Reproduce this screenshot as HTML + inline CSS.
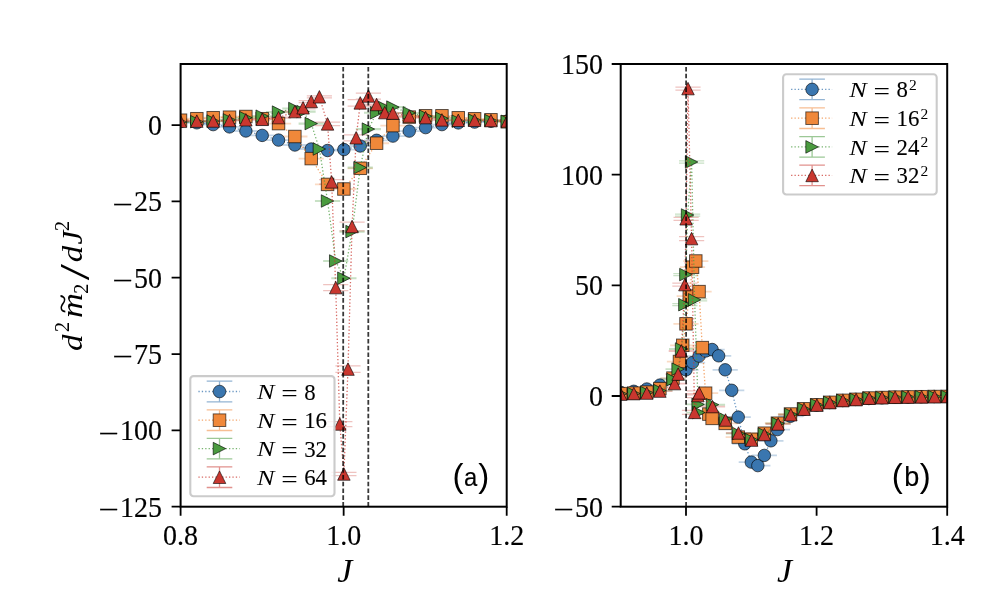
<!DOCTYPE html>
<html lang="en"><head><meta charset="utf-8"><title>Second derivative of m2 versus J</title>
<style>html,body{margin:0;padding:0;background:#fff;}body{width:1000px;height:609px;overflow:hidden;}svg{display:block;filter:blur(0.35px);}</style>
</head><body>
<svg width="1000" height="609" viewBox="0 0 1000 609" role="img" aria-label="Second derivative of m2 versus J for several system sizes">
<rect width="1000" height="609" fill="#fff"/>
<defs>
<clipPath id="clipL"><rect x="180.6" y="64" width="326.1" height="442.7"/></clipPath>
<clipPath id="clipR"><rect x="620.7" y="64" width="326.5" height="442.7"/></clipPath>
</defs>
<g id="panel-a">
<g clip-path="url(#clipL)">
<path d="M167.9 121.2H193.1M167.9 121.8H193.1M180.5 121.2V121.8M184.24 122.5H209.44M184.24 123.1H209.44M196.84 122.5V123.1M200.58 124.3H225.78M200.58 124.9H225.78M213.18 124.3V124.9M216.92 126.6H242.12M216.92 127.2H242.12M229.52 126.6V127.2M233.26 130.7H258.46M233.26 131.3H258.46M245.86 130.7V131.3M249.6 135.1H274.8M249.6 135.7H274.8M262.2 135.1V135.7M265.94 139.8H291.14M265.94 140.4H291.14M278.54 139.8V140.4M282.28 144.7H307.48M282.28 145.3H307.48M294.88 144.7V145.3M298.62 148.7H323.82M298.62 149.3H323.82M311.22 148.7V149.3M314.96 150.2H340.16M314.96 150.8H340.16M327.56 150.2V150.8M331.3 149.3H356.5M331.3 149.9H356.5M343.9 149.3V149.9M347.64 145.7H372.84M347.64 146.3H372.84M360.24 145.7V146.3M363.98 140H389.18M363.98 140.6H389.18M376.58 140V140.6M380.32 135.8H405.52M380.32 136.4H405.52M392.92 135.8V136.4M396.66 130.8H421.86M396.66 131.4H421.86M409.26 130.8V131.4M413 127.3H438.2M413 127.9H438.2M425.6 127.3V127.9M429.34 124.3H454.54M429.34 124.9H454.54M441.94 124.3V124.9M445.68 122.6H470.88M445.68 123.2H470.88M458.28 122.6V123.2M462.02 121.8H487.22M462.02 122.4H487.22M474.62 121.8V122.4M478.36 121H503.56M478.36 121.6H503.56M490.96 121V121.6M494.7 120.7H519.9M494.7 121.3H519.9M507.3 120.7V121.3" stroke="#3a76af" stroke-opacity="0.3" stroke-width="1.25" fill="none"/>
<path d="M167.9 119.9H193.1M167.9 120.5H193.1M180.5 119.9V120.5M184.24 118.4H209.44M184.24 119H209.44M196.84 118.4V119M200.58 117.4H225.78M200.58 118H225.78M213.18 117.4V118M216.92 116.9H242.12M216.92 117.5H242.12M229.52 116.9V117.5M233.26 116.2H258.46M233.26 116.8H258.46M245.86 116.2V116.8M249.6 118.4H274.8M249.6 119H274.8M262.2 118.4V119M265.94 123.3H291.14M265.94 123.9H291.14M278.54 123.3V123.9M282.28 136.2H307.48M282.28 136.8H307.48M294.88 136.2V136.8M298.62 158.3H323.82M298.62 158.9H323.82M311.22 158.3V158.9M314.96 184.1H340.16M314.96 184.7H340.16M327.56 184.1V184.7M331.3 188.7H356.5M331.3 189.3H356.5M343.9 188.7V189.3M347.64 168H372.84M347.64 168.6H372.84M360.24 168V168.6M363.98 142.9H389.18M363.98 143.5H389.18M376.58 142.9V143.5M380.32 125.3H405.52M380.32 125.9H405.52M392.92 125.3V125.9M396.66 116.8H421.86M396.66 117.4H421.86M409.26 116.8V117.4M413 115.5H438.2M413 116.1H438.2M425.6 115.5V116.1M429.34 115.5H454.54M429.34 116.1H454.54M441.94 115.5V116.1M445.68 117.5H470.88M445.68 118.1H470.88M458.28 117.5V118.1M462.02 118.5H487.22M462.02 119.1H487.22M474.62 118.5V119.1M478.36 119.5H503.56M478.36 120.1H503.56M490.96 119.5V120.1M494.7 121.5H519.9M494.7 122.1H519.9M507.3 121.5V122.1" stroke="#f0883a" stroke-opacity="0.3" stroke-width="1.25" fill="none"/>
<path d="M167.9 121.6H193.1M167.9 122.4H193.1M180.5 121.6V122.4M184.24 121.3H209.44M184.24 122.1H209.44M196.84 121.3V122.1M200.58 120.7H225.78M200.58 121.5H225.78M213.18 120.7V121.5M216.92 119.5H242.12M216.92 120.3H242.12M229.52 119.5V120.3M233.26 117.3H258.46M233.26 118.1H258.46M245.86 117.3V118.1M249.6 115.8H274.8M249.6 116.6H274.8M262.2 115.8V116.6M265.94 111.7H291.14M265.94 112.5H291.14M278.54 111.7V112.5M282.28 108.1H307.48M282.28 108.9H307.48M294.88 108.1V108.9M290.45 111.2H315.65M290.45 112H315.65M303.05 111.2V112M298.62 123.2H323.82M298.62 124H323.82M311.22 123.2V124M306.79 148.6H331.99M306.79 149.4H331.99M319.39 148.6V149.4M314.96 200.6H340.16M314.96 201.4H340.16M327.56 200.6V201.4M323.13 260.6H348.33M323.13 261.4H348.33M335.73 260.6V261.4M331.3 277.8H356.5M331.3 278.6H356.5M343.9 277.8V278.6M339.47 231.2H364.67M339.47 232H364.67M352.07 231.2V232M347.64 167.2H372.84M347.64 168H372.84M360.24 167.2V168M355.81 128.7H381.01M355.81 129.5H381.01M368.41 128.7V129.5M363.98 112.4H389.18M363.98 113.2H389.18M376.58 112.4V113.2M372.15 107.2H397.35M372.15 108H397.35M384.75 107.2V108M380.32 106.7H405.52M380.32 107.5H405.52M392.92 106.7V107.5M396.66 112.5H421.86M396.66 113.3H421.86M409.26 112.5V113.3M413 115.8H438.2M413 116.6H438.2M425.6 115.8V116.6M429.34 117.9H454.54M429.34 118.7H454.54M441.94 117.9V118.7M445.68 120.8H470.88M445.68 121.6H470.88M458.28 120.8V121.6M462.02 119.7H487.22M462.02 120.5H487.22M474.62 119.7V120.5M478.36 120.2H503.56M478.36 121H503.56M490.96 120.2V121M494.7 120.9H519.9M494.7 121.7H519.9M507.3 120.9V121.7" stroke="#4a9b3f" stroke-opacity="0.3" stroke-width="1.25" fill="none"/>
<path d="M167.9 120.9H193.1M167.9 121.7H193.1M180.5 120.9V121.7M184.24 120.7H209.44M184.24 121.5H209.44M196.84 120.7V121.5M200.58 120.6H225.78M200.58 121.4H225.78M213.18 120.6V121.4M216.92 120.1H242.12M216.92 120.9H242.12M229.52 120.1V120.9M233.26 119.4H258.46M233.26 120.2H258.46M245.86 119.4V120.2M249.6 118.9H274.8M249.6 119.7H274.8M262.2 118.9V119.7M265.94 117.2H291.14M265.94 118H291.14M278.54 117.2V118M282.28 111.2H307.48M282.28 112H307.48M294.88 111.2V112M290.45 106.8H315.65M290.45 108.8H315.65M303.05 106.8V108.8M298.62 100.5H323.82M298.62 102.5H323.82M311.22 100.5V102.5M306.79 95.8H331.99M306.79 97.8H331.99M319.39 95.8V97.8M314.96 122.1H340.16M314.96 125.7H340.16M327.56 122.1V125.7M319.04 179.7H344.25M319.04 184.1H344.25M331.64 179.7V184.1M323.13 284.7H348.33M323.13 290.5H348.33M335.73 284.7V290.5M327.21 421.5H352.41M327.21 426.5H352.41M339.81 421.5V426.5M331.3 472.3H356.5M331.3 475.7H356.5M343.9 472.3V475.7M335.38 365.8H360.58M335.38 372.4H360.58M347.98 365.8V372.4M339.47 222.1H364.67M339.47 230.9H364.67M352.07 222.1V230.9M343.55 134.8H368.75M343.55 140.8H368.75M356.15 134.8V140.8M347.64 99.7H372.84M347.64 106.1H372.84M360.24 99.7V106.1M355.81 93H381.01M355.81 99H381.01M368.41 93V99M363.98 104.1H389.18M363.98 104.9H389.18M376.58 104.1V104.9M372.15 112.2H397.35M372.15 113H397.35M384.75 112.2V113M380.32 112.7H405.52M380.32 113.5H405.52M392.92 112.7V113.5M396.66 115.7H421.86M396.66 116.5H421.86M409.26 115.7V116.5M413 117.2H438.2M413 118H438.2M425.6 117.2V118M429.34 119.5H454.54M429.34 120.3H454.54M441.94 119.5V120.3M445.68 119.9H470.88M445.68 120.7H470.88M458.28 119.9V120.7M462.02 119.8H487.22M462.02 120.6H487.22M474.62 119.8V120.6M478.36 120.2H503.56M478.36 121H503.56M490.96 120.2V121M494.7 120.6H519.9M494.7 121.4H519.9M507.3 120.6V121.4" stroke="#c9372f" stroke-opacity="0.3" stroke-width="1.25" fill="none"/>
<path d="M180.5 121.5L196.84 122.8L213.18 124.6L229.52 126.9L245.86 131L262.2 135.4L278.54 140.1L294.88 145L311.22 149L327.56 150.5L343.9 149.6L360.24 146L376.58 140.3L392.92 136.1L409.26 131.1L425.6 127.6L441.94 124.6L458.28 122.9L474.62 122.1L490.96 121.3L507.3 121" fill="none" stroke="#3a76af" stroke-width="1.3" stroke-dasharray="1.3 2.1" stroke-opacity="0.75"/>
<g fill="#3a76af" stroke="#000" stroke-opacity="0.66" stroke-width="0.95">
<circle cx="180.5" cy="121.5" r="6.25" />
<circle cx="196.84" cy="122.8" r="6.25" />
<circle cx="213.18" cy="124.6" r="6.25" />
<circle cx="229.52" cy="126.9" r="6.25" />
<circle cx="245.86" cy="131" r="6.25" />
<circle cx="262.2" cy="135.4" r="6.25" />
<circle cx="278.54" cy="140.1" r="6.25" />
<circle cx="294.88" cy="145" r="6.25" />
<circle cx="311.22" cy="149" r="6.25" />
<circle cx="327.56" cy="150.5" r="6.25" />
<circle cx="343.9" cy="149.6" r="6.25" />
<circle cx="360.24" cy="146" r="6.25" />
<circle cx="376.58" cy="140.3" r="6.25" />
<circle cx="392.92" cy="136.1" r="6.25" />
<circle cx="409.26" cy="131.1" r="6.25" />
<circle cx="425.6" cy="127.6" r="6.25" />
<circle cx="441.94" cy="124.6" r="6.25" />
<circle cx="458.28" cy="122.9" r="6.25" />
<circle cx="474.62" cy="122.1" r="6.25" />
<circle cx="490.96" cy="121.3" r="6.25" />
<circle cx="507.3" cy="121" r="6.25" />
</g>
<path d="M180.5 120.2L196.84 118.7L213.18 117.7L229.52 117.2L245.86 116.5L262.2 118.7L278.54 123.6L294.88 136.5L311.22 158.6L327.56 184.4L343.9 189L360.24 168.3L376.58 143.2L392.92 125.6L409.26 117.1L425.6 115.8L441.94 115.8L458.28 117.8L474.62 118.8L490.96 119.8L507.3 121.8" fill="none" stroke="#f0883a" stroke-width="1.3" stroke-dasharray="1.3 2.1" stroke-opacity="0.75"/>
<g fill="#f0883a" stroke="#000" stroke-opacity="0.66" stroke-width="0.95">
<rect x="174.25" y="113.95" width="12.5" height="12.5" />
<rect x="190.59" y="112.45" width="12.5" height="12.5" />
<rect x="206.93" y="111.45" width="12.5" height="12.5" />
<rect x="223.27" y="110.95" width="12.5" height="12.5" />
<rect x="239.61" y="110.25" width="12.5" height="12.5" />
<rect x="255.95" y="112.45" width="12.5" height="12.5" />
<rect x="272.29" y="117.35" width="12.5" height="12.5" />
<rect x="288.63" y="130.25" width="12.5" height="12.5" />
<rect x="304.97" y="152.35" width="12.5" height="12.5" />
<rect x="321.31" y="178.15" width="12.5" height="12.5" />
<rect x="337.65" y="182.75" width="12.5" height="12.5" />
<rect x="353.99" y="162.05" width="12.5" height="12.5" />
<rect x="370.33" y="136.95" width="12.5" height="12.5" />
<rect x="386.67" y="119.35" width="12.5" height="12.5" />
<rect x="403.01" y="110.85" width="12.5" height="12.5" />
<rect x="419.35" y="109.55" width="12.5" height="12.5" />
<rect x="435.69" y="109.55" width="12.5" height="12.5" />
<rect x="452.03" y="111.55" width="12.5" height="12.5" />
<rect x="468.37" y="112.55" width="12.5" height="12.5" />
<rect x="484.71" y="113.55" width="12.5" height="12.5" />
<rect x="501.05" y="115.55" width="12.5" height="12.5" />
</g>
<path d="M180.5 122L196.84 121.7L213.18 121.1L229.52 119.9L245.86 117.7L262.2 116.2L278.54 112.1L294.88 108.5L303.05 111.6L311.22 123.6L319.39 149L327.56 201L335.73 261L343.9 278.2L352.07 231.6L360.24 167.6L368.41 129.1L376.58 112.8L384.75 107.6L392.92 107.1L409.26 112.9L425.6 116.2L441.94 118.3L458.28 121.2L474.62 120.1L490.96 120.6L507.3 121.3" fill="none" stroke="#4a9b3f" stroke-width="1.3" stroke-dasharray="1.3 2.1" stroke-opacity="0.75"/>
<g fill="#4a9b3f" stroke="#000" stroke-opacity="0.66" stroke-width="0.95">
<path d="M174.25 115.75L186.75 122L174.25 128.25Z" />
<path d="M190.59 115.45L203.09 121.7L190.59 127.95Z" />
<path d="M206.93 114.85L219.43 121.1L206.93 127.35Z" />
<path d="M223.27 113.65L235.77 119.9L223.27 126.15Z" />
<path d="M239.61 111.45L252.11 117.7L239.61 123.95Z" />
<path d="M255.95 109.95L268.45 116.2L255.95 122.45Z" />
<path d="M272.29 105.85L284.79 112.1L272.29 118.35Z" />
<path d="M288.63 102.25L301.13 108.5L288.63 114.75Z" />
<path d="M296.8 105.35L309.3 111.6L296.8 117.85Z" />
<path d="M304.97 117.35L317.47 123.6L304.97 129.85Z" />
<path d="M313.14 142.75L325.64 149L313.14 155.25Z" />
<path d="M321.31 194.75L333.81 201L321.31 207.25Z" />
<path d="M329.48 254.75L341.98 261L329.48 267.25Z" />
<path d="M337.65 271.95L350.15 278.2L337.65 284.45Z" />
<path d="M345.82 225.35L358.32 231.6L345.82 237.85Z" />
<path d="M353.99 161.35L366.49 167.6L353.99 173.85Z" />
<path d="M362.16 122.85L374.66 129.1L362.16 135.35Z" />
<path d="M370.33 106.55L382.83 112.8L370.33 119.05Z" />
<path d="M378.5 101.35L391 107.6L378.5 113.85Z" />
<path d="M386.67 100.85L399.17 107.1L386.67 113.35Z" />
<path d="M403.01 106.65L415.51 112.9L403.01 119.15Z" />
<path d="M419.35 109.95L431.85 116.2L419.35 122.45Z" />
<path d="M435.69 112.05L448.19 118.3L435.69 124.55Z" />
<path d="M452.03 114.95L464.53 121.2L452.03 127.45Z" />
<path d="M468.37 113.85L480.87 120.1L468.37 126.35Z" />
<path d="M484.71 114.35L497.21 120.6L484.71 126.85Z" />
<path d="M501.05 115.05L513.55 121.3L501.05 127.55Z" />
</g>
<path d="M180.5 121.3L196.84 121.1L213.18 121L229.52 120.5L245.86 119.8L262.2 119.3L278.54 117.6L294.88 111.6L303.05 107.8L311.22 101.5L319.39 96.8L327.56 123.9L331.64 181.9L335.73 287.6L339.81 424L343.9 474L347.98 369.1L352.07 226.5L356.15 137.8L360.24 102.9L368.41 96L376.58 104.5L384.75 112.6L392.92 113.1L409.26 116.1L425.6 117.6L441.94 119.9L458.28 120.3L474.62 120.2L490.96 120.6L507.3 121" fill="none" stroke="#c9372f" stroke-width="1.3" stroke-dasharray="1.3 2.1" stroke-opacity="0.75"/>
<g fill="#c9372f" stroke="#000" stroke-opacity="0.66" stroke-width="0.95">
<path d="M180.5 115.05L186.75 127.55L174.25 127.55Z" />
<path d="M196.84 114.85L203.09 127.35L190.59 127.35Z" />
<path d="M213.18 114.75L219.43 127.25L206.93 127.25Z" />
<path d="M229.52 114.25L235.77 126.75L223.27 126.75Z" />
<path d="M245.86 113.55L252.11 126.05L239.61 126.05Z" />
<path d="M262.2 113.05L268.45 125.55L255.95 125.55Z" />
<path d="M278.54 111.35L284.79 123.85L272.29 123.85Z" />
<path d="M294.88 105.35L301.13 117.85L288.63 117.85Z" />
<path d="M303.05 101.55L309.3 114.05L296.8 114.05Z" />
<path d="M311.22 95.25L317.47 107.75L304.97 107.75Z" />
<path d="M319.39 90.55L325.64 103.05L313.14 103.05Z" />
<path d="M327.56 117.65L333.81 130.15L321.31 130.15Z" />
<path d="M331.64 175.65L337.89 188.15L325.39 188.15Z" />
<path d="M335.73 281.35L341.98 293.85L329.48 293.85Z" />
<path d="M339.81 417.75L346.06 430.25L333.56 430.25Z" />
<path d="M343.9 467.75L350.15 480.25L337.65 480.25Z" />
<path d="M347.98 362.85L354.23 375.35L341.73 375.35Z" />
<path d="M352.07 220.25L358.32 232.75L345.82 232.75Z" />
<path d="M356.15 131.55L362.4 144.05L349.9 144.05Z" />
<path d="M360.24 96.65L366.49 109.15L353.99 109.15Z" />
<path d="M368.41 89.75L374.66 102.25L362.16 102.25Z" />
<path d="M376.58 98.25L382.83 110.75L370.33 110.75Z" />
<path d="M384.75 106.35L391 118.85L378.5 118.85Z" />
<path d="M392.92 106.85L399.17 119.35L386.67 119.35Z" />
<path d="M409.26 109.85L415.51 122.35L403.01 122.35Z" />
<path d="M425.6 111.35L431.85 123.85L419.35 123.85Z" />
<path d="M441.94 113.65L448.19 126.15L435.69 126.15Z" />
<path d="M458.28 114.05L464.53 126.55L452.03 126.55Z" />
<path d="M474.62 113.95L480.87 126.45L468.37 126.45Z" />
<path d="M490.96 114.35L497.21 126.85L484.71 126.85Z" />
<path d="M507.3 114.75L513.55 127.25L501.05 127.25Z" />
</g>
<path d="M343.2 506.7V64" stroke="#000" stroke-opacity="0.78" stroke-width="1.8" stroke-dasharray="4.6 2.2" fill="none"/>
<path d="M368.3 506.7V64" stroke="#000" stroke-opacity="0.78" stroke-width="1.8" stroke-dasharray="4.6 2.2" fill="none"/>
</g>
<rect x="180.6" y="64" width="326.1" height="442.7" fill="none" stroke="#000" stroke-width="2"/>
<path d="M180.6 506.7V515.7M343.65 506.7V515.7M506.7 506.7V515.7" stroke="#000" stroke-width="1.8" fill="none"/>
<path d="M180.6 125.06H171.6M180.6 201.39H171.6M180.6 277.72H171.6M180.6 354.05H171.6M180.6 430.38H171.6M180.6 506.71H171.6" stroke="#000" stroke-width="1.8" fill="none"/>
<text transform="translate(180.6 544.6) scale(1 1.03)" font-family="'Liberation Serif','DejaVu Serif',serif" font-size="28" text-anchor="middle" stroke="#000" stroke-width="0.15">0.8</text>
<text transform="translate(343.65 544.6) scale(1 1.03)" font-family="'Liberation Serif','DejaVu Serif',serif" font-size="28" text-anchor="middle" stroke="#000" stroke-width="0.15">1.0</text>
<text transform="translate(506.7 544.6) scale(1 1.03)" font-family="'Liberation Serif','DejaVu Serif',serif" font-size="28" text-anchor="middle" stroke="#000" stroke-width="0.15">1.2</text>
<text transform="translate(162 135.16) scale(1 1.03)" font-family="'Liberation Serif','DejaVu Serif',serif" font-size="28" text-anchor="end" stroke="#000" stroke-width="0.15">0</text>
<text transform="translate(162 211.49) scale(1 1.03)" font-family="'Liberation Serif','DejaVu Serif',serif" font-size="28" text-anchor="end" stroke="#000" stroke-width="0.15">25</text><text transform="translate(132.8 213.79) scale(1.3 1.03)" font-family="'Liberation Serif','DejaVu Serif',serif" font-size="28" text-anchor="end" stroke="#000" stroke-width="0.15">−</text>
<text transform="translate(162 287.82) scale(1 1.03)" font-family="'Liberation Serif','DejaVu Serif',serif" font-size="28" text-anchor="end" stroke="#000" stroke-width="0.15">50</text><text transform="translate(132.8 290.12) scale(1.3 1.03)" font-family="'Liberation Serif','DejaVu Serif',serif" font-size="28" text-anchor="end" stroke="#000" stroke-width="0.15">−</text>
<text transform="translate(162 364.15) scale(1 1.03)" font-family="'Liberation Serif','DejaVu Serif',serif" font-size="28" text-anchor="end" stroke="#000" stroke-width="0.15">75</text><text transform="translate(132.8 366.45) scale(1.3 1.03)" font-family="'Liberation Serif','DejaVu Serif',serif" font-size="28" text-anchor="end" stroke="#000" stroke-width="0.15">−</text>
<text transform="translate(162 440.48) scale(1 1.03)" font-family="'Liberation Serif','DejaVu Serif',serif" font-size="28" text-anchor="end" stroke="#000" stroke-width="0.15">100</text><text transform="translate(118.8 442.78) scale(1.3 1.03)" font-family="'Liberation Serif','DejaVu Serif',serif" font-size="28" text-anchor="end" stroke="#000" stroke-width="0.15">−</text>
<text transform="translate(162 516.81) scale(1 1.03)" font-family="'Liberation Serif','DejaVu Serif',serif" font-size="28" text-anchor="end" stroke="#000" stroke-width="0.15">125</text><text transform="translate(118.8 519.11) scale(1.3 1.03)" font-family="'Liberation Serif','DejaVu Serif',serif" font-size="28" text-anchor="end" stroke="#000" stroke-width="0.15">−</text>
<text x="344.9" y="581.6" font-family="'Liberation Serif','DejaVu Serif',serif" font-size="34" text-anchor="middle" font-style="italic" >J</text>
</g>
<g id="panel-b">
<g clip-path="url(#clipR)">
<path d="M608.1 392.15H633.3M608.1 392.65H633.3M620.7 392.15V392.65M621.16 391.05H646.36M621.16 391.55H646.36M633.76 391.05V391.55M634.22 388.75H659.42M634.22 389.25H659.42M646.82 388.75V389.25M647.28 384.85H672.48M647.28 385.35H672.48M659.88 384.85V385.35M660.34 378.25H685.54M660.34 378.75H685.54M672.94 378.25V378.75M673.4 369.55H698.6M673.4 370.05H698.6M686 369.55V370.05M679.93 362.35H705.13M679.93 362.85H705.13M692.53 362.35V362.85M686.46 355.85H711.66M686.46 356.35H711.66M699.06 355.85V356.35M692.99 350.75H718.19M692.99 351.25H718.19M705.59 350.75V351.25M699.52 349.25H724.72M699.52 349.75H724.72M712.12 349.25V349.75M706.05 355.55H731.25M706.05 356.05H731.25M718.65 355.55V356.05M712.58 369.55H737.78M712.58 370.05H737.78M725.18 369.55V370.05M719.11 390.05H744.31M719.11 390.55H744.31M731.71 390.05V390.55M725.64 416.85H750.84M725.64 417.35H750.84M738.24 416.85V417.35M732.17 443.55H757.37M732.17 444.05H757.37M744.77 443.55V444.05M738.7 461.85H763.9M738.7 462.35H763.9M751.3 461.85V462.35M745.23 465.35H770.43M745.23 465.85H770.43M757.83 465.35V465.85M751.76 455.15H776.96M751.76 455.65H776.96M764.36 455.15V455.65M758.29 440.55H783.49M758.29 441.05H783.49M770.89 440.55V441.05M764.82 429.35H790.02M764.82 429.85H790.02M777.42 429.35V429.85M777.88 416.05H803.08M777.88 416.55H803.08M790.48 416.05V416.55M790.94 409.25H816.14M790.94 409.75H816.14M803.54 409.25V409.75M804 404.75H829.2M804 405.25H829.2M816.6 404.75V405.25M817.06 402.25H842.26M817.06 402.75H842.26M829.66 402.25V402.75M830.12 400.25H855.32M830.12 400.75H855.32M842.72 400.25V400.75M843.18 399.15H868.38M843.18 399.65H868.38M855.78 399.15V399.65M856.24 398.25H881.44M856.24 398.75H881.44M868.84 398.25V398.75M869.3 397.55H894.5M869.3 398.05H894.5M881.9 397.55V398.05M882.36 396.95H907.56M882.36 397.45H907.56M894.96 396.95V397.45M895.42 396.75H920.62M895.42 397.25H920.62M908.02 396.75V397.25M908.48 396.45H933.68M908.48 396.95H933.68M921.08 396.45V396.95M921.54 396.25H946.74M921.54 396.75H946.74M934.14 396.25V396.75M934.6 396.15H959.8M934.6 396.65H959.8M947.2 396.15V396.65" stroke="#3a76af" stroke-opacity="0.3" stroke-width="1.25" fill="none"/>
<path d="M608.1 393.35H633.3M608.1 393.85H633.3M620.7 393.35V393.85M621.16 392.85H646.36M621.16 393.35H646.36M633.76 392.85V393.35M634.22 391.85H659.42M634.22 392.35H659.42M646.82 391.85V392.35M647.28 388.35H672.48M647.28 388.85H672.48M659.88 388.35V388.85M660.34 377.85H685.54M660.34 378.35H685.54M672.94 377.85V378.35M666.87 361.25H692.07M666.87 361.75H692.07M679.47 361.25V361.75M670.13 345.05H695.34M670.13 345.55H695.34M682.74 345.05V345.55M673.4 323.55H698.6M673.4 324.05H698.6M686 323.55V324.05M676.66 295.75H701.87M676.66 296.25H701.87M689.26 295.75V296.25M679.93 266.95H705.13M679.93 267.45H705.13M692.53 266.95V267.45M683.19 260.75H708.39M683.19 261.25H708.39M695.79 260.75V261.25M686.46 291.35H711.66M686.46 291.85H711.66M699.06 291.35V291.85M689.72 347.35H714.92M689.72 347.85H714.92M702.32 347.35V347.85M692.99 392.95H718.19M692.99 393.45H718.19M705.59 392.95V393.45M696.25 413.85H721.46M696.25 414.35H721.46M708.86 413.85V414.35M699.52 418.15H724.72M699.52 418.65H724.72M712.12 418.15V418.65M712.58 423.15H737.78M712.58 423.65H737.78M725.18 423.15V423.65M725.64 436.85H750.84M725.64 437.35H750.84M738.24 436.85V437.35M738.7 439.05H763.9M738.7 439.55H763.9M751.3 439.05V439.55M751.76 432.95H776.96M751.76 433.45H776.96M764.36 432.95V433.45M764.82 422.95H790.02M764.82 423.45H790.02M777.42 422.95V423.45M777.88 413.75H803.08M777.88 414.25H803.08M790.48 413.75V414.25M790.94 408.55H816.14M790.94 409.05H816.14M803.54 408.55V409.05M804 404.55H829.2M804 405.05H829.2M816.6 404.55V405.05M817.06 402.05H842.26M817.06 402.55H842.26M829.66 402.05V402.55M830.12 400.05H855.32M830.12 400.55H855.32M842.72 400.05V400.55M843.18 399.05H868.38M843.18 399.55H868.38M855.78 399.05V399.55M856.24 397.75H881.44M856.24 398.25H881.44M868.84 397.75V398.25M869.3 397.25H894.5M869.3 397.75H894.5M881.9 397.25V397.75M882.36 396.85H907.56M882.36 397.35H907.56M894.96 396.85V397.35M895.42 396.65H920.62M895.42 397.15H920.62M908.02 396.65V397.15M908.48 396.45H933.68M908.48 396.95H933.68M921.08 396.45V396.95M921.54 396.25H946.74M921.54 396.75H946.74M934.14 396.25V396.75M934.6 396.15H959.8M934.6 396.65H959.8M947.2 396.15V396.65" stroke="#f0883a" stroke-opacity="0.3" stroke-width="1.25" fill="none"/>
<path d="M608.1 393.5H633.3M608.1 394.1H633.3M620.7 393.5V394.1M621.2 393.3H646.4M621.2 393.9H646.4M633.8 393.3V393.9M634.2 392.3H659.4M634.2 392.9H659.4M646.8 392.3V392.9M647.3 390.3H672.5M647.3 390.9H672.5M659.9 390.3V390.9M660.5 379.3H685.7M660.5 379.9H685.7M673.1 379.3V379.9M665.5 368.8H690.7M665.5 369.4H690.7M678.1 368.8V369.4M669 348.7H694.2M669 349.3H694.2M681.6 348.7V349.3M672.3 303.7H697.5M672.3 305.7H697.5M684.9 303.7V305.7M673.3 273.6H698.5M673.3 275.6H698.5M685.9 273.6V275.6M675 214H700.2M675 216H700.2M687.6 214V216M679 160.8H704.2M679 163.2H704.2M691.6 160.8V163.2M682 298.8H707.2M682 300.8H707.2M694.6 298.8V300.8M685.5 404.1H710.7M685.5 404.7H710.7M698.1 404.1V404.7M686.2 412.3H711.4M686.2 412.9H711.4M698.8 412.3V412.9M699.9 404.4H725.1M699.9 405H725.1M712.5 404.4V405M712.9 418.7H738.1M712.9 419.3H738.1M725.5 418.7V419.3M725.9 433.2H751.1M725.9 433.8H751.1M738.5 433.2V433.8M739 439.4H764.2M739 440H764.2M751.6 439.4V440M751.8 433.7H777M751.8 434.3H777M764.4 433.7V434.3M765.5 423.2H790.7M765.5 423.8H790.7M778.1 423.2V423.8M778.3 414.2H803.5M778.3 414.8H803.5M790.9 414.2V414.8M791.4 408.7H816.6M791.4 409.3H816.6M804 408.7V409.3M804.3 404.6H829.5M804.3 405.2H829.5M816.9 404.6V405.2M817.2 402.1H842.4M817.2 402.7H842.4M829.8 402.1V402.7M830.3 400.1H855.5M830.3 400.7H855.5M842.9 400.1V400.7M843.6 399.1H868.8M843.6 399.7H868.8M856.2 399.1V399.7M856.6 397.8H881.8M856.6 398.4H881.8M869.2 397.8V398.4M869.4 397.3H894.6M869.4 397.9H894.6M882 397.3V397.9M882.5 396.9H907.7M882.5 397.5H907.7M895.1 396.9V397.5M895.5 396.7H920.7M895.5 397.3H920.7M908.1 396.7V397.3M909 396.5H934.2M909 397.1H934.2M921.6 396.5V397.1M922 396.3H947.2M922 396.9H947.2M934.6 396.3V396.9M935.1 396.2H960.3M935.1 396.8H960.3M947.7 396.2V396.8" stroke="#4a9b3f" stroke-opacity="0.3" stroke-width="1.25" fill="none"/>
<path d="M608.1 393.8H633.3M608.1 394.4H633.3M620.7 393.8V394.4M621.2 393.3H646.4M621.2 393.9H646.4M633.8 393.3V393.9M634.2 392.8H659.4M634.2 393.4H659.4M646.8 392.8V393.4M647.3 390.8H672.5M647.3 391.4H672.5M659.9 390.8V391.4M662 383.3H687.2M662 383.9H687.2M674.6 383.3V383.9M665.5 373.8H690.7M665.5 374.4H690.7M678.1 373.8V374.4M668.7 350.7H693.9M668.7 351.3H693.9M681.3 350.7V351.3M672.3 283.1H697.5M672.3 286.1H697.5M684.9 283.1V286.1M673.5 217.3H698.7M673.5 220.3H698.7M686.1 217.3V220.3M675.4 87H700.6M675.4 90.2H700.6M688 87V90.2M679 236.6H704.2M679 240.6H704.2M691.6 236.6V240.6M681.9 410.4H707.1M681.9 414.4H707.1M694.5 410.4V414.4M685.3 393.6H710.5M685.3 397.6H710.5M697.9 393.6V397.6M686.5 390.9H711.7M686.5 394.9H711.7M699.1 390.9V394.9M699.9 406.3H725.1M699.9 406.9H725.1M712.5 406.3V406.9M712.9 419.7H738.1M712.9 420.3H738.1M725.5 419.7V420.3M725.9 432.7H751.1M725.9 433.3H751.1M738.5 432.7V433.3M739 439.8H764.2M739 440.4H764.2M751.6 439.8V440.4M751.8 434.2H777M751.8 434.8H777M764.4 434.2V434.8M765.5 423.7H790.7M765.5 424.3H790.7M778.1 423.7V424.3M778.2 414.4H803.4M778.2 415H803.4M790.8 414.4V415M791.4 408.9H816.6M791.4 409.5H816.6M804 408.9V409.5M804.3 404.8H829.5M804.3 405.4H829.5M816.9 404.8V405.4M817.2 402.3H842.4M817.2 402.9H842.4M829.8 402.3V402.9M830.3 400.3H855.5M830.3 400.9H855.5M842.9 400.3V400.9M843.6 399.3H868.8M843.6 399.9H868.8M856.2 399.3V399.9M856.6 397.9H881.8M856.6 398.5H881.8M869.2 397.9V398.5M869.4 397.4H894.6M869.4 398H894.6M882 397.4V398M882.5 397H907.7M882.5 397.6H907.7M895.1 397V397.6M895.5 396.8H920.7M895.5 397.4H920.7M908.1 396.8V397.4M909 396.6H934.2M909 397.2H934.2M921.6 396.6V397.2M922 396.4H947.2M922 397H947.2M934.6 396.4V397M935.1 396.3H960.3M935.1 396.9H960.3M947.7 396.3V396.9" stroke="#c9372f" stroke-opacity="0.3" stroke-width="1.25" fill="none"/>
<path d="M620.7 392.4L633.76 391.3L646.82 389L659.88 385.1L672.94 378.5L686 369.8L692.53 362.6L699.06 356.1L705.59 351L712.12 349.5L718.65 355.8L725.18 369.8L731.71 390.3L738.24 417.1L744.77 443.8L751.3 462.1L757.83 465.6L764.36 455.4L770.89 440.8L777.42 429.6L790.48 416.3L803.54 409.5L816.6 405L829.66 402.5L842.72 400.5L855.78 399.4L868.84 398.5L881.9 397.8L894.96 397.2L908.02 397L921.08 396.7L934.14 396.5L947.2 396.4" fill="none" stroke="#3a76af" stroke-width="1.3" stroke-dasharray="1.3 2.1" stroke-opacity="0.75"/>
<g fill="#3a76af" stroke="#000" stroke-opacity="0.66" stroke-width="0.95">
<circle cx="620.7" cy="392.4" r="6.25" />
<circle cx="633.76" cy="391.3" r="6.25" />
<circle cx="646.82" cy="389" r="6.25" />
<circle cx="659.88" cy="385.1" r="6.25" />
<circle cx="672.94" cy="378.5" r="6.25" />
<circle cx="686" cy="369.8" r="6.25" />
<circle cx="692.53" cy="362.6" r="6.25" />
<circle cx="699.06" cy="356.1" r="6.25" />
<circle cx="705.59" cy="351" r="6.25" />
<circle cx="712.12" cy="349.5" r="6.25" />
<circle cx="718.65" cy="355.8" r="6.25" />
<circle cx="725.18" cy="369.8" r="6.25" />
<circle cx="731.71" cy="390.3" r="6.25" />
<circle cx="738.24" cy="417.1" r="6.25" />
<circle cx="744.77" cy="443.8" r="6.25" />
<circle cx="751.3" cy="462.1" r="6.25" />
<circle cx="757.83" cy="465.6" r="6.25" />
<circle cx="764.36" cy="455.4" r="6.25" />
<circle cx="770.89" cy="440.8" r="6.25" />
<circle cx="777.42" cy="429.6" r="6.25" />
<circle cx="790.48" cy="416.3" r="6.25" />
<circle cx="803.54" cy="409.5" r="6.25" />
<circle cx="816.6" cy="405" r="6.25" />
<circle cx="829.66" cy="402.5" r="6.25" />
<circle cx="842.72" cy="400.5" r="6.25" />
<circle cx="855.78" cy="399.4" r="6.25" />
<circle cx="868.84" cy="398.5" r="6.25" />
<circle cx="881.9" cy="397.8" r="6.25" />
<circle cx="894.96" cy="397.2" r="6.25" />
<circle cx="908.02" cy="397" r="6.25" />
<circle cx="921.08" cy="396.7" r="6.25" />
<circle cx="934.14" cy="396.5" r="6.25" />
<circle cx="947.2" cy="396.4" r="6.25" />
</g>
<path d="M620.7 393.6L633.76 393.1L646.82 392.1L659.88 388.6L672.94 378.1L679.47 361.5L682.74 345.3L686 323.8L689.26 296L692.53 267.2L695.79 261L699.06 291.6L702.32 347.6L705.59 393.2L708.86 414.1L712.12 418.4L725.18 423.4L738.24 437.1L751.3 439.3L764.36 433.2L777.42 423.2L790.48 414L803.54 408.8L816.6 404.8L829.66 402.3L842.72 400.3L855.78 399.3L868.84 398L881.9 397.5L894.96 397.1L908.02 396.9L921.08 396.7L934.14 396.5L947.2 396.4" fill="none" stroke="#f0883a" stroke-width="1.3" stroke-dasharray="1.3 2.1" stroke-opacity="0.75"/>
<g fill="#f0883a" stroke="#000" stroke-opacity="0.66" stroke-width="0.95">
<rect x="614.45" y="387.35" width="12.5" height="12.5" />
<rect x="627.51" y="386.85" width="12.5" height="12.5" />
<rect x="640.57" y="385.85" width="12.5" height="12.5" />
<rect x="653.63" y="382.35" width="12.5" height="12.5" />
<rect x="666.69" y="371.85" width="12.5" height="12.5" />
<rect x="673.22" y="355.25" width="12.5" height="12.5" />
<rect x="676.49" y="339.05" width="12.5" height="12.5" />
<rect x="679.75" y="317.55" width="12.5" height="12.5" />
<rect x="683.01" y="289.75" width="12.5" height="12.5" />
<rect x="686.28" y="260.95" width="12.5" height="12.5" />
<rect x="689.54" y="254.75" width="12.5" height="12.5" />
<rect x="692.81" y="285.35" width="12.5" height="12.5" />
<rect x="696.07" y="341.35" width="12.5" height="12.5" />
<rect x="699.34" y="386.95" width="12.5" height="12.5" />
<rect x="702.61" y="407.85" width="12.5" height="12.5" />
<rect x="705.87" y="412.15" width="12.5" height="12.5" />
<rect x="718.93" y="417.15" width="12.5" height="12.5" />
<rect x="731.99" y="430.85" width="12.5" height="12.5" />
<rect x="745.05" y="433.05" width="12.5" height="12.5" />
<rect x="758.11" y="426.95" width="12.5" height="12.5" />
<rect x="771.17" y="416.95" width="12.5" height="12.5" />
<rect x="784.23" y="407.75" width="12.5" height="12.5" />
<rect x="797.29" y="402.55" width="12.5" height="12.5" />
<rect x="810.35" y="398.55" width="12.5" height="12.5" />
<rect x="823.41" y="396.05" width="12.5" height="12.5" />
<rect x="836.47" y="394.05" width="12.5" height="12.5" />
<rect x="849.53" y="393.05" width="12.5" height="12.5" />
<rect x="862.59" y="391.75" width="12.5" height="12.5" />
<rect x="875.65" y="391.25" width="12.5" height="12.5" />
<rect x="888.71" y="390.85" width="12.5" height="12.5" />
<rect x="901.77" y="390.65" width="12.5" height="12.5" />
<rect x="914.83" y="390.45" width="12.5" height="12.5" />
<rect x="927.89" y="390.25" width="12.5" height="12.5" />
<rect x="940.95" y="390.15" width="12.5" height="12.5" />
</g>
<path d="M620.7 393.8L633.8 393.6L646.8 392.6L659.9 390.6L673.1 379.6L678.1 369.1L681.6 349L684.9 304.7L685.9 274.6L687.6 215L691.6 162L694.6 299.8L698.1 404.4L698.8 412.6L712.5 404.7L725.5 419L738.5 433.5L751.6 439.7L764.4 434L778.1 423.5L790.9 414.5L804 409L816.9 404.9L829.8 402.4L842.9 400.4L856.2 399.4L869.2 398.1L882 397.6L895.1 397.2L908.1 397L921.6 396.8L934.6 396.6L947.7 396.5" fill="none" stroke="#4a9b3f" stroke-width="1.3" stroke-dasharray="1.3 2.1" stroke-opacity="0.75"/>
<g fill="#4a9b3f" stroke="#000" stroke-opacity="0.66" stroke-width="0.95">
<path d="M614.45 387.55L626.95 393.8L614.45 400.05Z" />
<path d="M627.55 387.35L640.05 393.6L627.55 399.85Z" />
<path d="M640.55 386.35L653.05 392.6L640.55 398.85Z" />
<path d="M653.65 384.35L666.15 390.6L653.65 396.85Z" />
<path d="M666.85 373.35L679.35 379.6L666.85 385.85Z" />
<path d="M671.85 362.85L684.35 369.1L671.85 375.35Z" />
<path d="M675.35 342.75L687.85 349L675.35 355.25Z" />
<path d="M678.65 298.45L691.15 304.7L678.65 310.95Z" />
<path d="M679.65 268.35L692.15 274.6L679.65 280.85Z" />
<path d="M681.35 208.75L693.85 215L681.35 221.25Z" />
<path d="M685.35 155.75L697.85 162L685.35 168.25Z" />
<path d="M688.35 293.55L700.85 299.8L688.35 306.05Z" />
<path d="M691.85 398.15L704.35 404.4L691.85 410.65Z" />
<path d="M692.55 406.35L705.05 412.6L692.55 418.85Z" />
<path d="M706.25 398.45L718.75 404.7L706.25 410.95Z" />
<path d="M719.25 412.75L731.75 419L719.25 425.25Z" />
<path d="M732.25 427.25L744.75 433.5L732.25 439.75Z" />
<path d="M745.35 433.45L757.85 439.7L745.35 445.95Z" />
<path d="M758.15 427.75L770.65 434L758.15 440.25Z" />
<path d="M771.85 417.25L784.35 423.5L771.85 429.75Z" />
<path d="M784.65 408.25L797.15 414.5L784.65 420.75Z" />
<path d="M797.75 402.75L810.25 409L797.75 415.25Z" />
<path d="M810.65 398.65L823.15 404.9L810.65 411.15Z" />
<path d="M823.55 396.15L836.05 402.4L823.55 408.65Z" />
<path d="M836.65 394.15L849.15 400.4L836.65 406.65Z" />
<path d="M849.95 393.15L862.45 399.4L849.95 405.65Z" />
<path d="M862.95 391.85L875.45 398.1L862.95 404.35Z" />
<path d="M875.75 391.35L888.25 397.6L875.75 403.85Z" />
<path d="M888.85 390.95L901.35 397.2L888.85 403.45Z" />
<path d="M901.85 390.75L914.35 397L901.85 403.25Z" />
<path d="M915.35 390.55L927.85 396.8L915.35 403.05Z" />
<path d="M928.35 390.35L940.85 396.6L928.35 402.85Z" />
<path d="M941.45 390.25L953.95 396.5L941.45 402.75Z" />
</g>
<path d="M620.7 394.1L633.8 393.6L646.8 393.1L659.9 391.1L674.6 383.6L678.1 374.1L681.3 351L684.9 284.6L686.1 218.8L688 88.6L691.6 238.6L694.5 412.4L697.9 395.6L699.1 392.9L712.5 406.6L725.5 420L738.5 433L751.6 440.1L764.4 434.5L778.1 424L790.8 414.7L804 409.2L816.9 405.1L829.8 402.6L842.9 400.6L856.2 399.6L869.2 398.2L882 397.7L895.1 397.3L908.1 397.1L921.6 396.9L934.6 396.7L947.7 396.6" fill="none" stroke="#c9372f" stroke-width="1.3" stroke-dasharray="1.3 2.1" stroke-opacity="0.75"/>
<g fill="#c9372f" stroke="#000" stroke-opacity="0.66" stroke-width="0.95">
<path d="M620.7 387.85L626.95 400.35L614.45 400.35Z" />
<path d="M633.8 387.35L640.05 399.85L627.55 399.85Z" />
<path d="M646.8 386.85L653.05 399.35L640.55 399.35Z" />
<path d="M659.9 384.85L666.15 397.35L653.65 397.35Z" />
<path d="M674.6 377.35L680.85 389.85L668.35 389.85Z" />
<path d="M678.1 367.85L684.35 380.35L671.85 380.35Z" />
<path d="M681.3 344.75L687.55 357.25L675.05 357.25Z" />
<path d="M684.9 278.35L691.15 290.85L678.65 290.85Z" />
<path d="M686.1 212.55L692.35 225.05L679.85 225.05Z" />
<path d="M688 82.35L694.25 94.85L681.75 94.85Z" />
<path d="M691.6 232.35L697.85 244.85L685.35 244.85Z" />
<path d="M694.5 406.15L700.75 418.65L688.25 418.65Z" />
<path d="M697.9 389.35L704.15 401.85L691.65 401.85Z" />
<path d="M699.1 386.65L705.35 399.15L692.85 399.15Z" />
<path d="M712.5 400.35L718.75 412.85L706.25 412.85Z" />
<path d="M725.5 413.75L731.75 426.25L719.25 426.25Z" />
<path d="M738.5 426.75L744.75 439.25L732.25 439.25Z" />
<path d="M751.6 433.85L757.85 446.35L745.35 446.35Z" />
<path d="M764.4 428.25L770.65 440.75L758.15 440.75Z" />
<path d="M778.1 417.75L784.35 430.25L771.85 430.25Z" />
<path d="M790.8 408.45L797.05 420.95L784.55 420.95Z" />
<path d="M804 402.95L810.25 415.45L797.75 415.45Z" />
<path d="M816.9 398.85L823.15 411.35L810.65 411.35Z" />
<path d="M829.8 396.35L836.05 408.85L823.55 408.85Z" />
<path d="M842.9 394.35L849.15 406.85L836.65 406.85Z" />
<path d="M856.2 393.35L862.45 405.85L849.95 405.85Z" />
<path d="M869.2 391.95L875.45 404.45L862.95 404.45Z" />
<path d="M882 391.45L888.25 403.95L875.75 403.95Z" />
<path d="M895.1 391.05L901.35 403.55L888.85 403.55Z" />
<path d="M908.1 390.85L914.35 403.35L901.85 403.35Z" />
<path d="M921.6 390.65L927.85 403.15L915.35 403.15Z" />
<path d="M934.6 390.45L940.85 402.95L928.35 402.95Z" />
<path d="M947.7 390.35L953.95 402.85L941.45 402.85Z" />
</g>
<path d="M686.1 506.7V64" stroke="#000" stroke-opacity="0.78" stroke-width="1.8" stroke-dasharray="4.6 2.2" fill="none"/>
</g>
<rect x="620.7" y="64" width="326.5" height="442.7" fill="none" stroke="#000" stroke-width="2"/>
<path d="M686 506.7V515.7M816.6 506.7V515.7M947.2 506.7V515.7" stroke="#000" stroke-width="1.8" fill="none"/>
<path d="M620.7 64H611.7M620.7 174.68H611.7M620.7 285.35H611.7M620.7 396.02H611.7M620.7 506.7H611.7" stroke="#000" stroke-width="1.8" fill="none"/>
<text transform="translate(686 544.6) scale(1 1.03)" font-family="'Liberation Serif','DejaVu Serif',serif" font-size="28" text-anchor="middle" stroke="#000" stroke-width="0.15">1.0</text>
<text transform="translate(816.6 544.6) scale(1 1.03)" font-family="'Liberation Serif','DejaVu Serif',serif" font-size="28" text-anchor="middle" stroke="#000" stroke-width="0.15">1.2</text>
<text transform="translate(947.2 544.6) scale(1 1.03)" font-family="'Liberation Serif','DejaVu Serif',serif" font-size="28" text-anchor="middle" stroke="#000" stroke-width="0.15">1.4</text>
<text transform="translate(603 74.1) scale(1 1.03)" font-family="'Liberation Serif','DejaVu Serif',serif" font-size="28" text-anchor="end" stroke="#000" stroke-width="0.15">150</text>
<text transform="translate(603 184.78) scale(1 1.03)" font-family="'Liberation Serif','DejaVu Serif',serif" font-size="28" text-anchor="end" stroke="#000" stroke-width="0.15">100</text>
<text transform="translate(603 295.45) scale(1 1.03)" font-family="'Liberation Serif','DejaVu Serif',serif" font-size="28" text-anchor="end" stroke="#000" stroke-width="0.15">50</text>
<text transform="translate(603 406.12) scale(1 1.03)" font-family="'Liberation Serif','DejaVu Serif',serif" font-size="28" text-anchor="end" stroke="#000" stroke-width="0.15">0</text>
<text transform="translate(603 516.8) scale(1 1.03)" font-family="'Liberation Serif','DejaVu Serif',serif" font-size="28" text-anchor="end" stroke="#000" stroke-width="0.15">50</text><text transform="translate(573.8 519.1) scale(1.3 1.03)" font-family="'Liberation Serif','DejaVu Serif',serif" font-size="28" text-anchor="end" stroke="#000" stroke-width="0.15">−</text>
<text x="784.6" y="581.6" font-family="'Liberation Serif','DejaVu Serif',serif" font-size="34" text-anchor="middle" font-style="italic" >J</text>
</g>
<g transform="translate(82.3 350.6) rotate(-90)" font-family="'Liberation Serif','DejaVu Serif',serif" fill="#000">
<g>
<text transform="translate(-0.5 0) scale(1.1 1)" font-size="30" font-style="italic">d</text>
<text x="18.5" y="-13.5" font-size="20">2</text>
<text transform="translate(32.6 0) scale(1.15 1)" font-size="30" font-style="italic">m</text>
<text transform="translate(37 -9.5) scale(1.2 1)" font-size="30">~</text>
<text x="56.8" y="5.5" font-size="20">2</text>
<text transform="translate(70.3 6.5) scale(1.95 1.38)" font-size="30" stroke-width="0">/</text>
<text transform="translate(88.3 0) scale(1.1 1)" font-size="30" font-style="italic">d</text>
<text transform="translate(106 0) scale(1.04 1)" font-size="30" font-style="italic">J</text>
<text x="119.5" y="-13.5" font-size="20">2</text>
</g>
</g>
<g>
<rect x="190.3" y="376.1" width="144.2" height="120.2" rx="3.2" ry="3.2" fill="#fff" fill-opacity="0.8" stroke="#cbcbcb" stroke-width="2.1"/>
<path d="M206.7 381.2H232.3M206.7 401.8H232.3M219.5 381.2V401.8" stroke="#3a76af" stroke-opacity="0.55" stroke-width="1.3" fill="none"/>
<path d="M198.4 391.5H239.8" stroke="#3a76af" stroke-width="1.3" stroke-dasharray="1.3 2.1" stroke-opacity="0.75" fill="none"/>
<circle cx="219.5" cy="391.5" r="6.3" fill="#3a76af" stroke="#000" stroke-opacity="0.62" stroke-width="0.95"/>
<text x="257" y="399.2" font-family="'Liberation Serif','DejaVu Serif',serif" font-size="22" font-style="italic" textLength="17.5" lengthAdjust="spacingAndGlyphs">N</text>
<text transform="translate(281.2 402.2) scale(1.33 1.1)" font-family="'Liberation Serif','DejaVu Serif',serif" font-size="22">=</text>
<text x="304.2" y="399.5" font-family="'Liberation Serif','DejaVu Serif',serif" font-size="22.8" stroke="#000" stroke-width="0.1">8</text>
<path d="M206.7 409.9H232.3M206.7 430.5H232.3M219.5 409.9V430.5" stroke="#f0883a" stroke-opacity="0.55" stroke-width="1.3" fill="none"/>
<path d="M198.4 420.2H239.8" stroke="#f0883a" stroke-width="1.3" stroke-dasharray="1.3 2.1" stroke-opacity="0.75" fill="none"/>
<rect x="213.2" y="413.9" width="12.6" height="12.6" fill="#f0883a" stroke="#000" stroke-opacity="0.62" stroke-width="0.95"/>
<text x="257" y="427.9" font-family="'Liberation Serif','DejaVu Serif',serif" font-size="22" font-style="italic" textLength="17.5" lengthAdjust="spacingAndGlyphs">N</text>
<text transform="translate(281.2 430.9) scale(1.33 1.1)" font-family="'Liberation Serif','DejaVu Serif',serif" font-size="22">=</text>
<text x="304.2" y="428.2" font-family="'Liberation Serif','DejaVu Serif',serif" font-size="22.8" stroke="#000" stroke-width="0.1">16</text>
<path d="M206.7 438.3H232.3M206.7 458.9H232.3M219.5 438.3V458.9" stroke="#4a9b3f" stroke-opacity="0.55" stroke-width="1.3" fill="none"/>
<path d="M198.4 448.6H239.8" stroke="#4a9b3f" stroke-width="1.3" stroke-dasharray="1.3 2.1" stroke-opacity="0.75" fill="none"/>
<path d="M213.2 442.3L225.8 448.6L213.2 454.9Z" fill="#4a9b3f" stroke="#000" stroke-opacity="0.62" stroke-width="0.95"/>
<text x="257" y="456.3" font-family="'Liberation Serif','DejaVu Serif',serif" font-size="22" font-style="italic" textLength="17.5" lengthAdjust="spacingAndGlyphs">N</text>
<text transform="translate(281.2 459.3) scale(1.33 1.1)" font-family="'Liberation Serif','DejaVu Serif',serif" font-size="22">=</text>
<text x="304.2" y="456.6" font-family="'Liberation Serif','DejaVu Serif',serif" font-size="22.8" stroke="#000" stroke-width="0.1">32</text>
<path d="M206.7 466.9H232.3M206.7 487.5H232.3M219.5 466.9V487.5" stroke="#c9372f" stroke-opacity="0.55" stroke-width="1.3" fill="none"/>
<path d="M198.4 477.2H239.8" stroke="#c9372f" stroke-width="1.3" stroke-dasharray="1.3 2.1" stroke-opacity="0.75" fill="none"/>
<path d="M219.5 470.9L225.8 483.5L213.2 483.5Z" fill="#c9372f" stroke="#000" stroke-opacity="0.62" stroke-width="0.95"/>
<text x="257" y="484.9" font-family="'Liberation Serif','DejaVu Serif',serif" font-size="22" font-style="italic" textLength="17.5" lengthAdjust="spacingAndGlyphs">N</text>
<text transform="translate(281.2 487.9) scale(1.33 1.1)" font-family="'Liberation Serif','DejaVu Serif',serif" font-size="22">=</text>
<text x="304.2" y="485.2" font-family="'Liberation Serif','DejaVu Serif',serif" font-size="22.8" stroke="#000" stroke-width="0.1">64</text>
</g>
<g>
<rect x="783.1" y="74.3" width="153.6" height="120.2" rx="3.2" ry="3.2" fill="#fff" fill-opacity="0.8" stroke="#cbcbcb" stroke-width="2.1"/>
<path d="M799.3 79.1H824.9M799.3 99.7H824.9M812.1 79.1V99.7" stroke="#3a76af" stroke-opacity="0.55" stroke-width="1.3" fill="none"/>
<path d="M791.1 89.4H832.1" stroke="#3a76af" stroke-width="1.3" stroke-dasharray="1.3 2.1" stroke-opacity="0.75" fill="none"/>
<circle cx="812.1" cy="89.4" r="6.3" fill="#3a76af" stroke="#000" stroke-opacity="0.62" stroke-width="0.95"/>
<text x="849.3" y="97.1" font-family="'Liberation Serif','DejaVu Serif',serif" font-size="22" font-style="italic" textLength="17.5" lengthAdjust="spacingAndGlyphs">N</text>
<text transform="translate(873.5 100.1) scale(1.33 1.1)" font-family="'Liberation Serif','DejaVu Serif',serif" font-size="22">=</text>
<text x="896.5" y="97.4" font-family="'Liberation Serif','DejaVu Serif',serif" font-size="22.8" stroke="#000" stroke-width="0.1">8</text>
<text x="909.1" y="89.8" font-family="'Liberation Serif','DejaVu Serif',serif" font-size="15.5">2</text>
<path d="M799.3 107.9H824.9M799.3 128.5H824.9M812.1 107.9V128.5" stroke="#f0883a" stroke-opacity="0.55" stroke-width="1.3" fill="none"/>
<path d="M791.1 118.2H832.1" stroke="#f0883a" stroke-width="1.3" stroke-dasharray="1.3 2.1" stroke-opacity="0.75" fill="none"/>
<rect x="805.8" y="111.9" width="12.6" height="12.6" fill="#f0883a" stroke="#000" stroke-opacity="0.62" stroke-width="0.95"/>
<text x="849.3" y="125.9" font-family="'Liberation Serif','DejaVu Serif',serif" font-size="22" font-style="italic" textLength="17.5" lengthAdjust="spacingAndGlyphs">N</text>
<text transform="translate(873.5 128.9) scale(1.33 1.1)" font-family="'Liberation Serif','DejaVu Serif',serif" font-size="22">=</text>
<text x="896.5" y="126.2" font-family="'Liberation Serif','DejaVu Serif',serif" font-size="22.8" stroke="#000" stroke-width="0.1">16</text>
<text x="920.5" y="118.6" font-family="'Liberation Serif','DejaVu Serif',serif" font-size="15.5">2</text>
<path d="M799.3 136.6H824.9M799.3 157.2H824.9M812.1 136.6V157.2" stroke="#4a9b3f" stroke-opacity="0.55" stroke-width="1.3" fill="none"/>
<path d="M791.1 146.9H832.1" stroke="#4a9b3f" stroke-width="1.3" stroke-dasharray="1.3 2.1" stroke-opacity="0.75" fill="none"/>
<path d="M805.8 140.6L818.4 146.9L805.8 153.2Z" fill="#4a9b3f" stroke="#000" stroke-opacity="0.62" stroke-width="0.95"/>
<text x="849.3" y="154.6" font-family="'Liberation Serif','DejaVu Serif',serif" font-size="22" font-style="italic" textLength="17.5" lengthAdjust="spacingAndGlyphs">N</text>
<text transform="translate(873.5 157.6) scale(1.33 1.1)" font-family="'Liberation Serif','DejaVu Serif',serif" font-size="22">=</text>
<text x="896.5" y="154.9" font-family="'Liberation Serif','DejaVu Serif',serif" font-size="22.8" stroke="#000" stroke-width="0.1">24</text>
<text x="920.5" y="147.3" font-family="'Liberation Serif','DejaVu Serif',serif" font-size="15.5">2</text>
<path d="M799.3 165.1H824.9M799.3 185.7H824.9M812.1 165.1V185.7" stroke="#c9372f" stroke-opacity="0.55" stroke-width="1.3" fill="none"/>
<path d="M791.1 175.4H832.1" stroke="#c9372f" stroke-width="1.3" stroke-dasharray="1.3 2.1" stroke-opacity="0.75" fill="none"/>
<path d="M812.1 169.1L818.4 181.7L805.8 181.7Z" fill="#c9372f" stroke="#000" stroke-opacity="0.62" stroke-width="0.95"/>
<text x="849.3" y="183.1" font-family="'Liberation Serif','DejaVu Serif',serif" font-size="22" font-style="italic" textLength="17.5" lengthAdjust="spacingAndGlyphs">N</text>
<text transform="translate(873.5 186.1) scale(1.33 1.1)" font-family="'Liberation Serif','DejaVu Serif',serif" font-size="22">=</text>
<text x="896.5" y="183.4" font-family="'Liberation Serif','DejaVu Serif',serif" font-size="22.8" stroke="#000" stroke-width="0.1">32</text>
<text x="920.5" y="175.8" font-family="'Liberation Serif','DejaVu Serif',serif" font-size="15.5">2</text>
</g>
<g font-family="'Liberation Sans','DejaVu Sans',sans-serif"><text x="452.6" y="486.6" font-size="33">(</text><text transform="translate(464 485.9) scale(0.9 1)" font-size="26.5" stroke="#000" stroke-width="0.15">a</text><text x="478.3" y="486.6" font-size="33">)</text></g>
<g font-family="'Liberation Sans','DejaVu Sans',sans-serif"><text x="891.7" y="486.6" font-size="33">(</text><text transform="translate(904.2 485.9) scale(0.95 1)" font-size="28.5" stroke="#000" stroke-width="0.15">b</text><text x="919.8" y="486.6" font-size="33">)</text></g>
</svg>
</body></html>
